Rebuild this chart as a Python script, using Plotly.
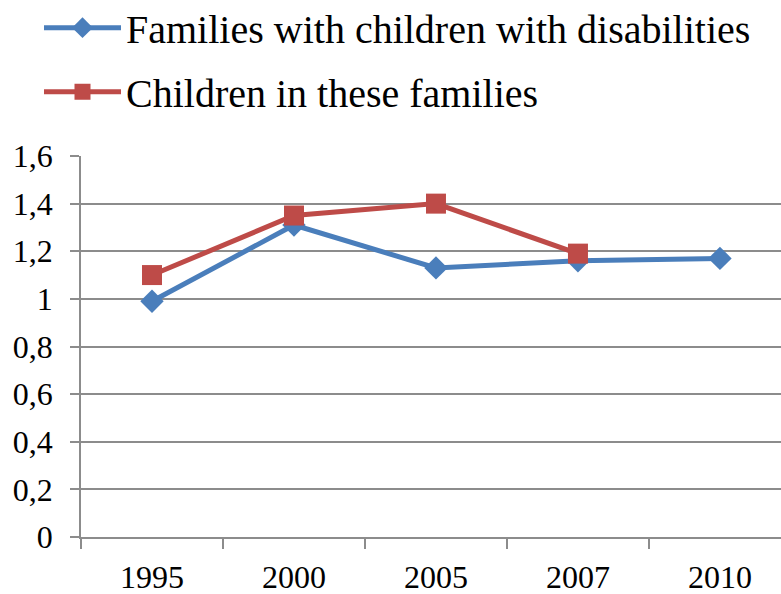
import plotly.graph_objects as go

years = ["1995", "2000", "2005", "2007", "2010"]
families = [0.99, 1.31, 1.13, 1.16, 1.17]
children_years = ["1995", "2000", "2005", "2007"]
children = [1.10, 1.35, 1.40, 1.19]
y_ticks = [0, 0.2, 0.4, 0.6, 0.8, 1.0, 1.2, 1.4, 1.6]
y_tick_labels = ["0", "0,2", "0,4", "0,6", "0,8", "1", "1,2", "1,4", "1,6"]

FONT = "Liberation Serif"
BLUE = "#4A7EBB"
RED = "#BE4B48"
GRID = "#8C8C8C"

fig = go.Figure()
fig.add_trace(go.Scatter(
    x=years, y=families, mode="lines+markers",
    name="Families with children with disabilities",
    legendgroup="a",
    line=dict(color=BLUE, width=5),
    marker=dict(symbol="diamond", size=18, color=BLUE),
))
fig.add_trace(go.Scatter(
    x=children_years, y=children, mode="lines+markers",
    name="Children in these families",
    legendgroup="b",
    line=dict(color=RED, width=5),
    marker=dict(symbol="square", size=20, color=RED),
))

fig.update_layout(
    width=781, height=594,
    margin=dict(l=81, r=0, t=156, b=57, autoexpand=False),
    paper_bgcolor="white", plot_bgcolor="white",
    font=dict(family=FONT, size=28, color="black"),
    showlegend=True,
    legend=dict(
        xref="paper", yref="paper",
        x=-0.06, y=1.422, xanchor="left", yanchor="top",
        font=dict(family=FONT, size=40, color="black"),
        traceorder="grouped", tracegroupgap=9,
        itemwidth=77,
        bgcolor="rgba(0,0,0,0)",
    ),
    xaxis=dict(
        type="category", categoryorder="array", categoryarray=years,
        range=[-0.5, 4.43],
        showgrid=False, showline=True, linecolor=GRID, linewidth=1.5,
        tickson="boundaries", ticks="outside", ticklen=10, tickcolor=GRID, tickwidth=1.5,
        tickfont=dict(family=FONT, size=32),
        tickangle=0,
        ticklabelstandoff=11,
        zeroline=False,
    ),
    yaxis=dict(
        range=[0, 1.6], tickvals=y_ticks, ticktext=y_tick_labels,
        showgrid=True, gridcolor=GRID, gridwidth=1.5,
        showline=True, linecolor=GRID, linewidth=1.5,
        ticks="outside", ticklen=9, tickcolor=GRID, tickwidth=1.5,
        tickfont=dict(family=FONT, size=32),
        ticklabelstandoff=11,
        zeroline=False,
    ),
)

fig.write_html("out.html")
